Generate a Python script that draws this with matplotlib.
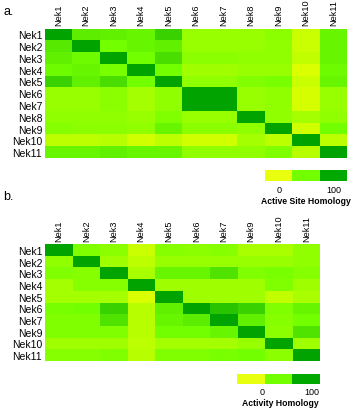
import numpy as np
import matplotlib
matplotlib.use("Agg")
import matplotlib.pyplot as plt
from matplotlib.colors import LinearSegmentedColormap, ListedColormap

plt.rcParams['font.family'] = ['Liberation Sans', 'DejaVu Sans']

# panel a: active site homology (rows/cols Nek1..Nek11)
labels_a = ['Nek1', 'Nek2', 'Nek3', 'Nek4', 'Nek5', 'Nek6', 'Nek7', 'Nek8', 'Nek9', 'Nek10', 'Nek11']
active_site = [
    [100, 60, 58, 55, 75, 35, 35, 35, 40, 15, 55],
    [62, 100, 50, 55, 58, 35, 35, 35, 38, 15, 55],
    [58, 52, 100, 50, 68, 40, 40, 38, 38, 18, 55],
    [52, 55, 48, 100, 50, 32, 32, 35, 35, 8, 52],
    [75, 58, 68, 50, 100, 38, 38, 45, 48, 15, 55],
    [35, 35, 40, 30, 38, 100, 100, 35, 38, 10, 35],
    [35, 35, 40, 30, 38, 100, 100, 35, 38, 10, 35],
    [38, 38, 38, 35, 45, 35, 35, 100, 38, 30, 38],
    [42, 40, 40, 38, 55, 40, 40, 38, 100, 12, 50],
    [20, 20, 22, 12, 20, 12, 12, 30, 20, 100, 20],
    [55, 55, 58, 55, 55, 38, 38, 38, 45, 22, 100],
]

# panel b: activity homology (no Nek8)
labels_b = ['Nek1', 'Nek2', 'Nek3', 'Nek4', 'Nek5', 'Nek6', 'Nek7', 'Nek9', 'Nek10', 'Nek11']
activity = [
    [100, 45, 40, 15, 42, 40, 42, 28, 28, 38],
    [38, 100, 32, 20, 35, 35, 35, 35, 35, 38],
    [45, 42, 100, 28, 55, 55, 65, 45, 48, 42],
    [30, 42, 42, 100, 32, 32, 32, 32, 45, 32],
    [30, 30, 30, 8, 100, 32, 32, 32, 18, 28],
    [48, 50, 75, 22, 58, 100, 82, 75, 45, 55],
    [45, 45, 65, 22, 55, 60, 100, 58, 42, 50],
    [45, 45, 45, 22, 50, 50, 55, 100, 40, 65],
    [32, 32, 32, 20, 30, 30, 30, 35, 100, 32],
    [42, 42, 45, 22, 45, 45, 48, 50, 40, 100],
]

cbar_vals = [0, 50, 100]
cbar_ticks = ['0', '100']

cmap = LinearSegmentedColormap.from_list(
    'ygg', [(0.0, (0.93, 1.0, 0.0)), (0.5, (0.45, 1.0, 0.0)), (1.0, (0.0, 0.64, 0.0))])
cbar_cmap = ListedColormap([(0.91, 1.0, 0.05), (0.45, 1.0, 0.0), (0.0, 0.66, 0.0)])

W, H = 352, 410
fig = plt.figure(figsize=(W / 100, H / 100), dpi=100)


def px_axes(x0, y0, x1, y1):
    # pixel box (top-left origin) -> figure axes
    return fig.add_axes([x0 / W, 1 - y1 / H, (x1 - x0) / W, (y1 - y0) / H])


def heat(ax, data, labels):
    data = np.array(data, dtype=float)
    ax.pcolormesh(data, cmap=cmap, vmin=0, vmax=100)
    ax.set_xlim(0, len(labels))
    ax.set_ylim(len(labels), 0)
    ax.xaxis.tick_top()
    ax.set_xticks(np.arange(len(labels)) + 0.5)
    ax.set_xticklabels(labels, rotation=90, fontsize=6.6)
    ax.set_yticks(np.arange(len(labels)) + 0.5)
    ax.set_yticklabels(labels, fontsize=7.5)
    ax.tick_params(axis='x', length=0, pad=2.5)
    ax.tick_params(axis='y', length=0, pad=2)
    for s in ax.spines.values():
        s.set_visible(False)


def cbar(ax, title, tick_x, title_x):
    ax.pcolormesh(np.array([cbar_vals]), cmap=cbar_cmap, vmin=0, vmax=100)
    ax.set_xticks([])
    ax.set_yticks([])
    for s in ax.spines.values():
        s.set_visible(False)
    for tx, tl in zip(tick_x, cbar_ticks):
        ax.text(tx, -0.35, tl, ha='center', va='top', fontsize=6.5)
    ax.text(title_x, -1.4, title, ha='center', va='top', fontsize=6.2, fontweight='bold')
    ax.set_xlim(0, 3)
    ax.set_ylim(0, 1)


ax_a = px_axes(45, 29.5, 347, 159)
heat(ax_a, active_site, labels_a)
cb_a = px_axes(265, 171, 347, 182)
cbar(cb_a, 'Active Site Homology', [0.5, 2.5], 1.5)

ax_b = px_axes(45, 245, 320, 362)
heat(ax_b, activity, labels_b)
cb_b = px_axes(237, 375, 320, 385)
cbar(cb_b, 'Activity Homology', [0.9, 2.7], 1.55)

fig.text(3 / W, 1 - 12 / H, 'a.', fontsize=9, va='center')
fig.text(3 / W, 1 - 197 / H, 'b.', fontsize=9, va='center')

fig.savefig('out.png', dpi=100)
